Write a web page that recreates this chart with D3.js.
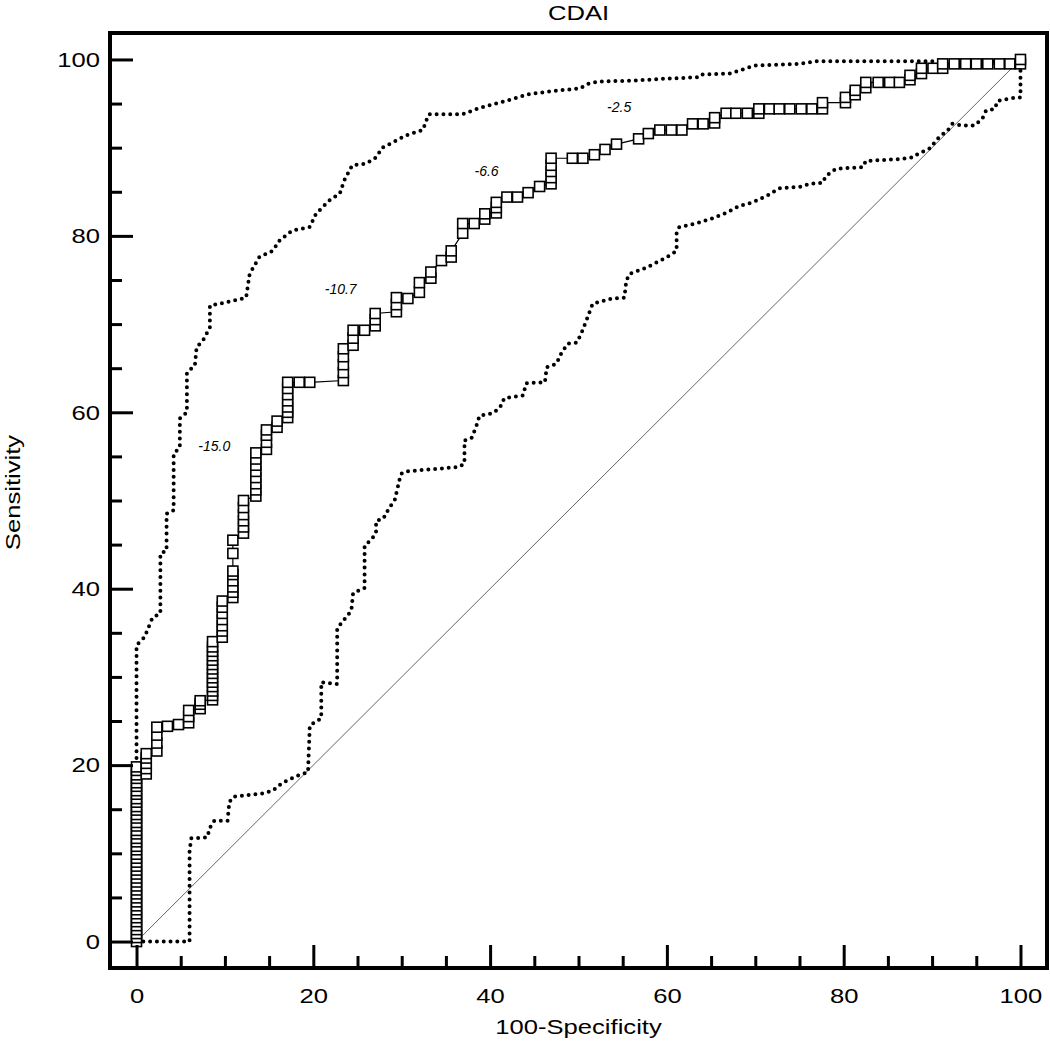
<!DOCTYPE html>
<html>
<head>
<meta charset="utf-8">
<script src="https://cdn.jsdelivr.net/npm/d3@7"></script>
<style>
  html, body { margin: 0; padding: 0; background: #fff; }
  svg { display: block; }
  text { font-family: "Liberation Sans", Arial, Helvetica, sans-serif; fill: #000; }
</style>
</head>
<body>
<svg id="chart" width="1050" height="1046"></svg>
<script>
// ---------- DATA ----------
const title = "CDAI";
const xLabel = "100-Specificity";
const yLabel = "Sensitivity";
const majorTicks = [0, 20, 40, 60, 80, 100];
const minorTicks = [5, 10, 15, 25, 30, 35, 45, 50, 55, 65, 70, 75, 85, 90, 95];

// ROC curve points [100-Specificity, Sensitivity]
const rocPoints = [
  [0,0],[0,0.45],[0,0.9],[0,1.35],[0,1.8],[0,2.25],[0,2.7],[0,3.15],[0,3.6],[0,4.05],
  [0,4.5],[0,4.95],[0,5.4],[0,5.85],[0,6.3],[0,6.75],[0,7.2],[0,7.65],[0,8.1],[0,8.55],
  [0,9.0],[0,9.45],[0,9.9],[0,10.4],[0,10.8],[0,11.3],[0,11.7],[0,12.2],[0,12.6],[0,13.1],
  [0,13.5],[0,14.0],[0,14.4],[0,14.9],[0,15.3],[0,15.8],[0,16.2],[0,16.7],[0,17.1],[0,17.6],
  [0,18.0],[0,18.5],[0,18.9],[0,19.4],[0,19.8],
  [1.1,19.0],[1.1,19.6],[1.1,20.2],[1.1,20.8],[1.1,21.3],
  [2.3,21.6],[2.3,22.5],[2.3,23.4],[2.3,24.3],
  [3.5,24.4],[4.75,24.6],
  [5.9,24.8],[5.9,25.5],[5.9,26.2],
  [7.2,26.4],[7.2,26.9],[7.2,27.3],
  [8.6,27.4],[8.6,27.9],[8.6,28.4],[8.6,28.9],[8.6,29.4],[8.6,29.9],[8.6,30.4],[8.6,30.9],
  [8.6,31.4],[8.6,31.9],[8.6,32.4],[8.6,32.9],[8.6,33.4],[8.6,34.0],
  [9.7,34.5],[9.7,35.2],[9.7,35.8],[9.7,36.5],[9.7,37.2],[9.7,37.9],[9.7,38.6],
  [10.9,39.0],[10.9,39.6],[10.9,40.2],[10.9,40.9],[10.9,41.6],[10.9,42.0],
  [10.9,44.0],[10.9,45.5],
  [12.1,46.3],[12.1,47.0],[12.1,47.7],[12.1,48.4],[12.1,49.2],[12.1,50.0],
  [13.5,50.5],[13.5,51.2],[13.5,51.9],[13.5,52.6],[13.5,53.3],[13.5,54.0],[13.5,54.7],[13.5,55.4],
  [14.7,55.8],[14.7,56.6],[14.7,57.4],[14.7,58.0],
  [15.9,58.3],[15.9,59.0],
  [17.1,59.4],[17.1,60.0],[17.1,60.6],[17.1,61.3],[17.1,62.0],[17.1,62.7],[17.1,63.4],
  [18.4,63.4],[19.6,63.4],
  [23.4,63.6],[23.4,64.5],[23.4,65.4],[23.4,66.3],[23.4,67.2],
  [24.5,67.6],[24.5,68.4],[24.5,69.3],
  [25.8,69.3],
  [27.0,69.8],[27.0,70.5],[27.0,71.2],
  [29.4,71.4],[29.4,72.2],[29.4,73.0],
  [30.7,72.9],
  [32.0,73.6],[32.0,74.7],
  [33.3,75.2],[33.3,75.9],
  [34.5,77.2],
  [35.6,77.6],[35.6,78.3],
  [36.9,80.3],[36.9,81.4],
  [38.2,81.4],
  [39.4,81.9],[39.4,82.5],
  [40.7,82.6],[40.7,83.2],[40.7,83.8],
  [41.9,84.4],[43.1,84.4],[44.3,84.9],[45.6,85.6],
  [46.9,85.9],[46.9,86.6],[46.9,87.3],[46.9,88.0],[46.9,88.8],
  [49.3,88.8],[50.5,88.8],[51.8,89.2],[53.0,89.8],[54.3,90.4],
  [56.8,91.0],[57.9,91.6],[59.2,92.0],[60.5,92.0],[61.7,92.0],
  [62.9,92.7],[64.1,92.7],
  [65.4,92.8],[65.4,93.4],
  [66.7,93.9],[67.8,93.9],[69.1,93.9],
  [70.4,93.9],[70.4,94.4],
  [71.6,94.4],[72.7,94.4],[73.9,94.4],[75.2,94.4],[76.4,94.4],
  [77.6,94.4],[77.6,95.1],
  [80.2,95.1],[80.2,95.7],
  [81.3,96.0],[81.3,96.5],
  [82.5,96.8],[82.5,97.4],
  [83.9,97.4],[85.2,97.4],[86.3,97.4],
  [87.5,97.7],[87.5,98.2],
  [88.8,98.4],[88.8,99.0],
  [90.1,99.0],
  [91.2,99.0],[91.2,99.5],
  [92.5,99.5],[93.8,99.5],[95.0,99.5],[96.3,99.5],[97.6,99.5],[98.8,99.5],
  [100,99.5],[100,100]
];

// Upper 95% confidence bound
const upperCI = [
  [0,0],[0,33.6],[0.9,34.5],[1.8,36.7],[2.7,37.2],[2.7,44],[3.4,44.3],[3.4,48.5],[4.2,48.9],
  [4.2,55.3],[4.9,56],[4.9,59.3],[5.7,60],[5.7,64.5],[6.6,65.3],[6.8,67.4],[7.5,68.1],
  [8.3,69.6],[8.3,72.1],[9.4,72.3],[12.4,73],[12.8,75.7],[13.9,77.6],[15.4,78.3],[16.2,79.5],
  [17.6,80.6],[19.6,81],[20.3,82.5],[21.8,84],[23,84.8],[23.5,86.3],[24.4,88],[26,88.2],
  [27.1,88.9],[27.8,90],[29,90.6],[30.5,91.4],[32.4,92],[32.9,93.4],[33.1,93.8],[36.9,93.8],
  [38.8,94.5],[41.8,95.3],[44.5,96.1],[47.9,96.5],[50.1,96.7],[51.2,97.3],[52.4,97.5],
  [56.1,97.6],[59.5,97.8],[63.7,98],[64,98.3],[67.1,98.4],[68.4,98.8],[69.9,99.3],[75,99.5],
  [76.9,99.8],[100,99.8],[100,100]
];

// Lower 95% confidence bound
const lowerCI = [
  [0,0],[6,0],[6,10.3],[6.2,11.7],[8,11.8],[8.3,12.9],[8.8,13.7],[10.3,13.7],[10.5,15.8],
  [10.9,16.4],[14.3,16.8],[15.4,17.1],[16.5,18],[18.2,18.8],[19.4,19.2],[19.6,24.5],[20.9,25.3],
  [20.9,29.4],[22.7,29.2],[22.7,35.5],[24.3,37.5],[24.5,39.5],[25.8,40.1],[25.8,44.9],
  [26.5,45.5],[27.1,46.3],[27.1,47.7],[27.9,47.9],[28.6,49.2],[29.2,50],[29.9,53],[30.5,53.3],
  [36.5,53.8],[37.1,54.2],[37.1,56.8],[37.9,57.1],[38.4,58.3],[38.8,59.6],[40.3,59.9],
  [41.1,60.5],[41.6,61.6],[43.7,61.9],[44.1,63.3],[46.2,63.4],[46.4,65.1],[47.5,65.5],
  [48.1,66.8],[48.8,67.8],[49.8,67.9],[50.3,68.9],[51,70.7],[51.6,72.3],[53.8,72.9],[55.2,73],
  [55.4,74.9],[55.8,75.7],[57.7,76.4],[60,77.6],[61.1,78.3],[61.1,80.3],[61.4,81],[63.3,81.4],
  [65.2,82],[66.7,82.6],[68.2,83.4],[69.7,83.8],[71.4,84.6],[72.7,85.4],[75.3,85.6],[76.1,85.9],
  [77.6,86],[78,86.8],[79.1,87.6],[82.2,87.8],[82.5,88.5],[86.3,88.7],[87.8,88.9],[88.4,89.3],
  [89.7,89.9],[90.8,91.2],[91.8,92],[92.3,92.7],[93.4,92.5],[94.8,92.5],[95.7,93.3],[96.1,94.2],
  [97.1,94.4],[97.4,95.3],[98.9,95.6],[100,95.7],[100,100]
];

// Reference diagonal
const diagonal = [[0,0],[100,100]];

// Criterion labels [x, y, text]
const criterionLabels = [
  [8.8, 56.2, "-15.0"],
  [23.1, 74.0, "-10.7"],
  [39.6, 87.4, "-6.6"],
  [54.6, 94.6, "-2.5"]
];

// ---------- CHART ----------
const svg = d3.select("#chart");
const plotLeft = 110, plotRight = 1047, plotTop = 33, plotBottom = 968;
const textStretch = "scale(1.22,1)";

const x = d3.scaleLinear().domain([-3, 103]).range([plotLeft, plotRight]);
const y = d3.scaleLinear().domain([-3, 103]).range([plotBottom, plotTop]);

const line = d3.line().x(d => x(d[0])).y(d => y(d[1]));

// diagonal
svg.append("path").attr("d", line(diagonal))
  .attr("fill", "none").attr("stroke", "#666").attr("stroke-width", 1);

// confidence bounds (dotted)
[upperCI, lowerCI].forEach(ci => {
  svg.append("path").attr("d", line(ci))
    .attr("fill", "none").attr("stroke", "#000")
    .attr("stroke-width", 4)
    .attr("stroke-linecap", "round")
    .attr("stroke-dasharray", "0 6.8");
});

// ROC line
svg.append("path").attr("d", line(rocPoints))
  .attr("fill", "none").attr("stroke", "#000").attr("stroke-width", 1.2);

// ROC markers
const sq = 10;
svg.append("g").selectAll("rect").data(rocPoints).join("rect")
  .attr("x", d => x(d[0]) - sq / 2)
  .attr("y", d => y(d[1]) - sq / 2)
  .attr("width", sq).attr("height", sq)
  .attr("fill", "#fff").attr("stroke", "#000").attr("stroke-width", 1.6);

// criterion labels
svg.append("g").selectAll("text").data(criterionLabels).join("text")
  .attr("x", d => x(d[0])).attr("y", d => y(d[1]))
  .attr("text-anchor", "middle").attr("dominant-baseline", "central")
  .style("font-size", "14px").style("font-style", "italic")
  .text(d => d[2]);

// frame
svg.append("rect").attr("x", plotLeft).attr("y", plotTop)
  .attr("width", plotRight - plotLeft).attr("height", plotBottom - plotTop)
  .attr("fill", "none").attr("stroke", "#000").attr("stroke-width", 4);

// axes with inward ticks
const axisFont = "21px";
const xMajor = d3.axisTop(x).tickValues(majorTicks).tickSize(23).tickFormat("");
const xMinor = d3.axisTop(x).tickValues(minorTicks).tickSize(12).tickFormat("");
const yMajor = d3.axisRight(y).tickValues(majorTicks).tickSize(23).tickFormat("");
const yMinor = d3.axisRight(y).tickValues(minorTicks).tickSize(12).tickFormat("");

[xMajor, xMinor].forEach(a => {
  const g = svg.append("g").attr("transform", `translate(0,${plotBottom})`).call(a);
  g.select(".domain").remove();
  g.selectAll("line").attr("stroke", "#000").attr("stroke-width", 3);
});
[yMajor, yMinor].forEach(a => {
  const g = svg.append("g").attr("transform", `translate(${plotLeft},0)`).call(a);
  g.select(".domain").remove();
  g.selectAll("line").attr("stroke", "#000").attr("stroke-width", 3);
});

// tick labels
const xLab = d3.axisBottom(x).tickValues(majorTicks).tickSize(0).tickPadding(0).tickFormat(d3.format("d"));
const gxl = svg.append("g").attr("transform", `translate(0,${plotBottom + 20})`).call(xLab);
gxl.select(".domain").remove();
gxl.selectAll("text").style("font-size", axisFont).attr("font-family", null)
  .attr("dy", "0.71em").attr("y", 0).attr("transform", textStretch);

const yLab = d3.axisLeft(y).tickValues(majorTicks).tickSize(0).tickPadding(0).tickFormat(d3.format("d"));
const gyl = svg.append("g").attr("transform", `translate(${plotLeft - 10},0)`).call(yLab);
gyl.select(".domain").remove();
gyl.selectAll("text").style("font-size", axisFont).attr("font-family", null)
  .attr("x", 0).attr("transform", textStretch);

// titles
svg.append("text")
  .attr("transform", `translate(${(plotLeft + plotRight) / 2},20) ${textStretch}`)
  .attr("text-anchor", "middle").style("font-size", "21px").text(title);
svg.append("text")
  .attr("transform", `translate(${(plotLeft + plotRight) / 2},1034) ${textStretch}`)
  .attr("text-anchor", "middle").style("font-size", axisFont).text(xLabel);
svg.append("text")
  .attr("transform", `translate(20,${(plotTop + plotBottom) / 2 - 8}) rotate(-90) ${textStretch}`)
  .attr("text-anchor", "middle").style("font-size", axisFont).text(yLabel);
</script>
</body>
</html>
